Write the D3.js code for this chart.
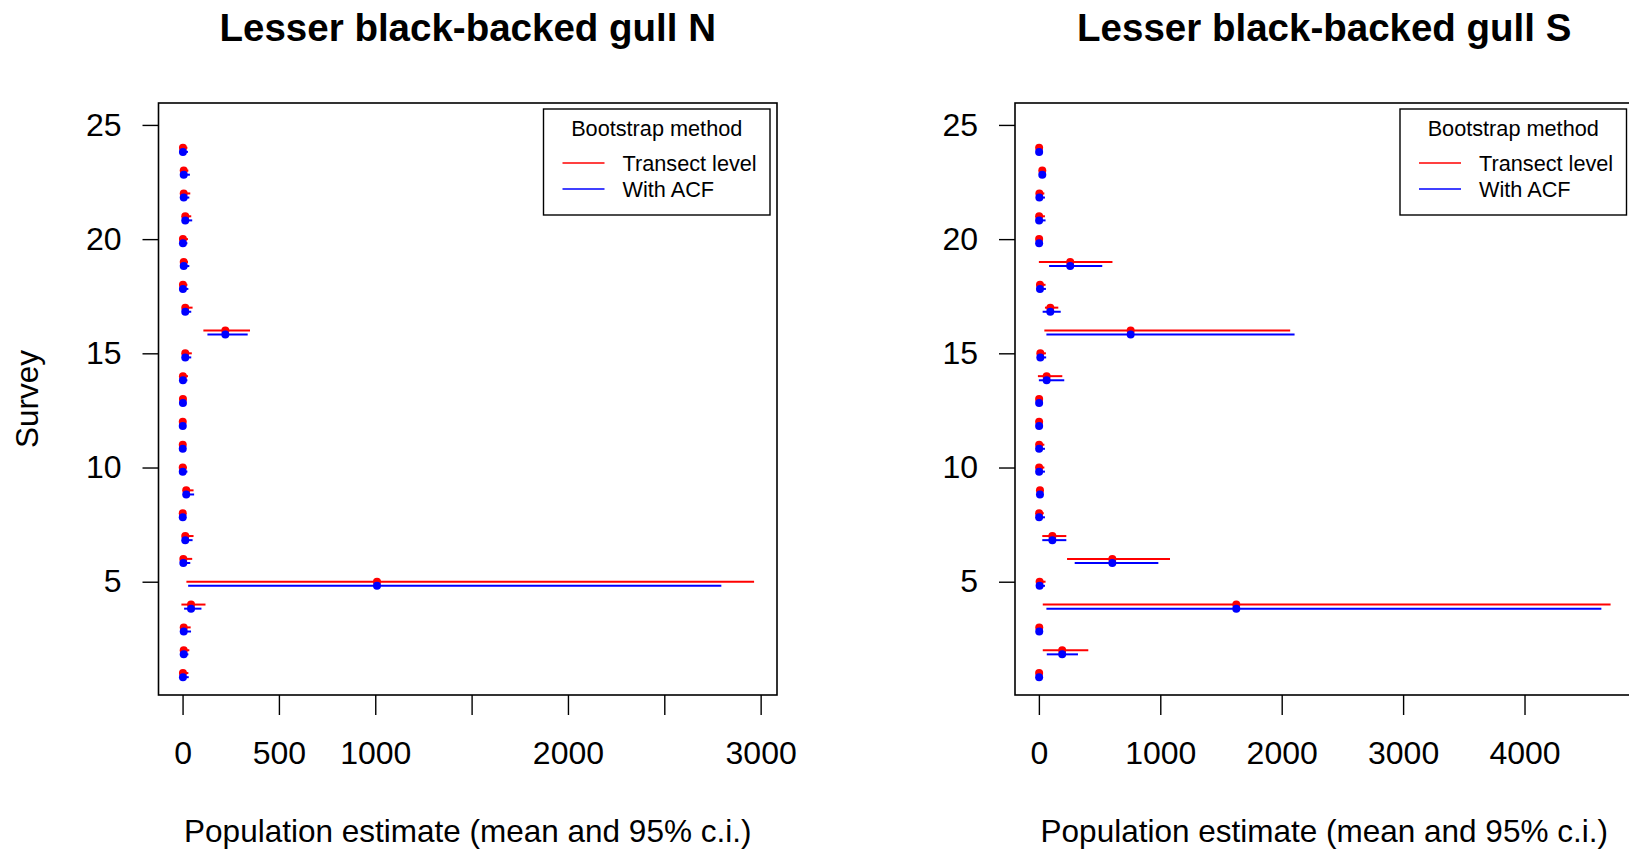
<!DOCTYPE html>
<html>
<head>
<meta charset="utf-8">
<script src="https://cdn.jsdelivr.net/npm/d3@7"></script>
<style>
  body { margin: 0; background: #fff; }
  svg { display: block; font-family: "Liberation Sans", Arial, sans-serif; }
</style>
</head>
<body>
<svg width="1629" height="851"></svg>
<script>
// survey numbers (y axis)
var surveys = [1, 2, 3, 4, 5, 6, 7, 8, 9, 10, 11, 12, 13, 14, 15, 16, 17, 18, 19, 20, 21, 22, 23, 24];

// North: mean estimate and 95% c.i. for both bootstrap methods
var nMean = [2, 6, 6, 44, 1009, 4, 14, 1, 19, 1, 1, 1, 2, 2, 14, 222, 14, 2, 6, 2, 14, 6, 6, 2];
var nTransLo = [0, 0, 0, -6, 20, 0, 2, 0, 4, 0, 0, 0, 0, 0, 2, 108, 2, 0, 0, 0, 2, 0, 0, 0];
var nTransHi = [30, 35, 42, 119, 2966, 50, 57, 12, 57, 22, 15, 12, 15, 28, 48, 350, 52, 25, 28, 28, 45, 40, 30, 25];
var nAcfLo = [0, 0, 0, 8, 29, 0, 2, 0, 4, 0, 0, 0, 0, 0, 2, 129, 2, 0, 0, 0, 2, 0, 0, 0];
var nAcfHi = [32, 30, 44, 98, 2796, 40, 52, 10, 60, 25, 18, 18, 18, 25, 45, 338, 45, 30, 35, 25, 50, 35, 38, 28];

// South
var sMean = [2, 192, 3, 1626, 6, 605, 111, 2, 9, 2, 2, 2, 2, 64, 12, 756, 94, 9, 258, 2, 2, 4, 28, 2];
var sTransLo = [0, 32, 0, 32, 0, 232, 28, 0, 0, 0, 0, 0, 0, -8, 0, 45, 50, 0, 0, 0, 0, 0, 10, 0];
var sTransHi = [20, 407, 25, 4709, 55, 1080, 226, 40, 30, 45, 45, 30, 20, 193, 58, 2070, 160, 55, 606, 25, 50, 45, 45, 30];
var sAcfLo = [0, 65, 0, 62, 0, 295, 28, 0, 0, 0, 0, 0, 0, 0, 0, 62, 31, 0, 84, 0, 0, 0, 10, 0];
var sAcfHi = [20, 322, 25, 4633, 50, 984, 226, 50, 30, 50, 50, 30, 25, 209, 60, 2106, 180, 58, 522, 25, 55, 50, 45, 30];

// axis ticks
var yTicks = [5, 10, 15, 20, 25];
var nTicks = [0, 500, 1000, 1500, 2000, 2500, 3000];
var nTickLabels = ["0", "500", "1000", "", "2000", "", "3000"];
var sTicks = [0, 1000, 2000, 3000, 4000];
var sTickLabels = ["0", "1000", "2000", "3000", "4000"];

var legendTitle = "Bootstrap method";
var legendNames = ["Transect level", "With ACF"];
var colors = ["#ff0000", "#0000ff"];

var svg = d3.select("svg");
var top0 = 103, bottom0 = 695, boxW = 618.5;

var panels = [
    {title: "Lesser black-backed gull N", left: 158.5, ylab: "Survey",
     mean: nMean, lo: [nTransLo, nAcfLo], hi: [nTransHi, nAcfHi],
     ticks: nTicks, labels: nTickLabels},
    {title: "Lesser black-backed gull S", left: 1015, ylab: "",
     mean: sMean, lo: [sTransLo, sAcfLo], hi: [sTransHi, sAcfHi],
     ticks: sTicks, labels: sTickLabels}
];

panels.forEach(drawPanel);

function drawPanel(p) {
    var right = p.left + boxW;

    // R style xlim: data range extended by 4% each side
    var all = p.lo[0].concat(p.lo[1], p.hi[0], p.hi[1]);
    var lo = d3.min(all), hi = d3.max(all), pad = (hi - lo) * 0.04;
    var x = d3.scaleLinear().domain([lo - pad, hi + pad]).range([p.left, right]);
    var y = d3.scaleLinear().domain([0.04, 25.96]).range([bottom0, top0]);

    var g = svg.append("g");

    // title
    g.append("text")
        .attr("x", (p.left + right) / 2)
        .attr("y", 40.5)
        .attr("text-anchor", "middle")
        .attr("font-size", 38.5)
        .attr("font-weight", "bold")
        .text(p.title);

    // intervals and means, red first then blue slightly below
    [0, 1].forEach(function (k) {
        var off = k === 0 ? 0 : -0.18;
        g.append("g").selectAll("line")
            .data(surveys)
            .enter().append("line")
            .attr("x1", function (d, i) { return x(p.lo[k][i]); })
            .attr("x2", function (d, i) { return x(p.hi[k][i]); })
            .attr("y1", function (d) { return y(d + off); })
            .attr("y2", function (d) { return y(d + off); })
            .attr("stroke", colors[k])
            .attr("stroke-width", 2);
        g.append("g").selectAll("circle")
            .data(surveys)
            .enter().append("circle")
            .attr("cx", function (d, i) { return x(p.mean[i]); })
            .attr("cy", function (d) { return y(d + off); })
            .attr("r", 4)
            .attr("fill", colors[k]);
    });

    // axes (no outer ticks, R only draws from first to last tick)
    var xAxis = d3.axisBottom(x)
        .tickValues(p.ticks)
        .tickSize(20)
        .tickPadding(26)
        .tickFormat(function (d, i) { return p.labels[i]; });
    var gx = g.append("g")
        .attr("transform", "translate(0," + bottom0 + ")")
        .call(xAxis);

    var yAxis = d3.axisLeft(y)
        .tickValues(yTicks)
        .tickSize(16)
        .tickPadding(21);
    var gy = g.append("g")
        .attr("transform", "translate(" + p.left + ",0)")
        .call(yAxis);

    [gx, gy].forEach(function (a) {
        a.select(".domain").remove();
        a.attr("font-family", null).attr("font-size", 32);
        a.selectAll("line").attr("stroke", "#000").attr("stroke-width", 1.4);
        a.selectAll("text").attr("fill", "#000");
    });

    // box
    g.append("rect")
        .attr("x", p.left)
        .attr("y", top0)
        .attr("width", boxW)
        .attr("height", bottom0 - top0)
        .attr("fill", "none")
        .attr("stroke", "#000")
        .attr("stroke-width", 1.6);

    // axis labels
    g.append("text")
        .attr("x", (p.left + right) / 2)
        .attr("y", 841.5)
        .attr("text-anchor", "middle")
        .attr("font-size", 31.5)
        .text("Population estimate (mean and 95% c.i.)");

    if (p.ylab) {
        g.append("text")
            .attr("transform", "translate(38," + (top0 + bottom0) / 2 + ") rotate(-90)")
            .attr("text-anchor", "middle")
            .attr("font-size", 31.5)
            .text(p.ylab);
    }

    // legend, top right inside the box
    var lw = 226.5, lh = 106;
    var lg = g.append("g").attr("transform", "translate(" + (right - 7 - lw) + "," + (top0 + 6) + ")");
    lg.append("rect")
        .attr("width", lw)
        .attr("height", lh)
        .attr("fill", "#fff")
        .attr("stroke", "#000")
        .attr("stroke-width", 1.4);
    lg.append("text")
        .attr("x", lw / 2)
        .attr("y", 27)
        .attr("text-anchor", "middle")
        .attr("font-size", 21.7)
        .text(legendTitle);
    legendNames.forEach(function (name, k) {
        var yy = 54 + k * 26;
        lg.append("line")
            .attr("x1", 19).attr("x2", 61)
            .attr("y1", yy).attr("y2", yy)
            .attr("stroke", colors[k])
            .attr("stroke-width", 1.6);
        lg.append("text")
            .attr("x", 79)
            .attr("y", yy + 7.5)
            .attr("font-size", 21.7)
            .text(name);
    });
}
</script>
</body>
</html>
